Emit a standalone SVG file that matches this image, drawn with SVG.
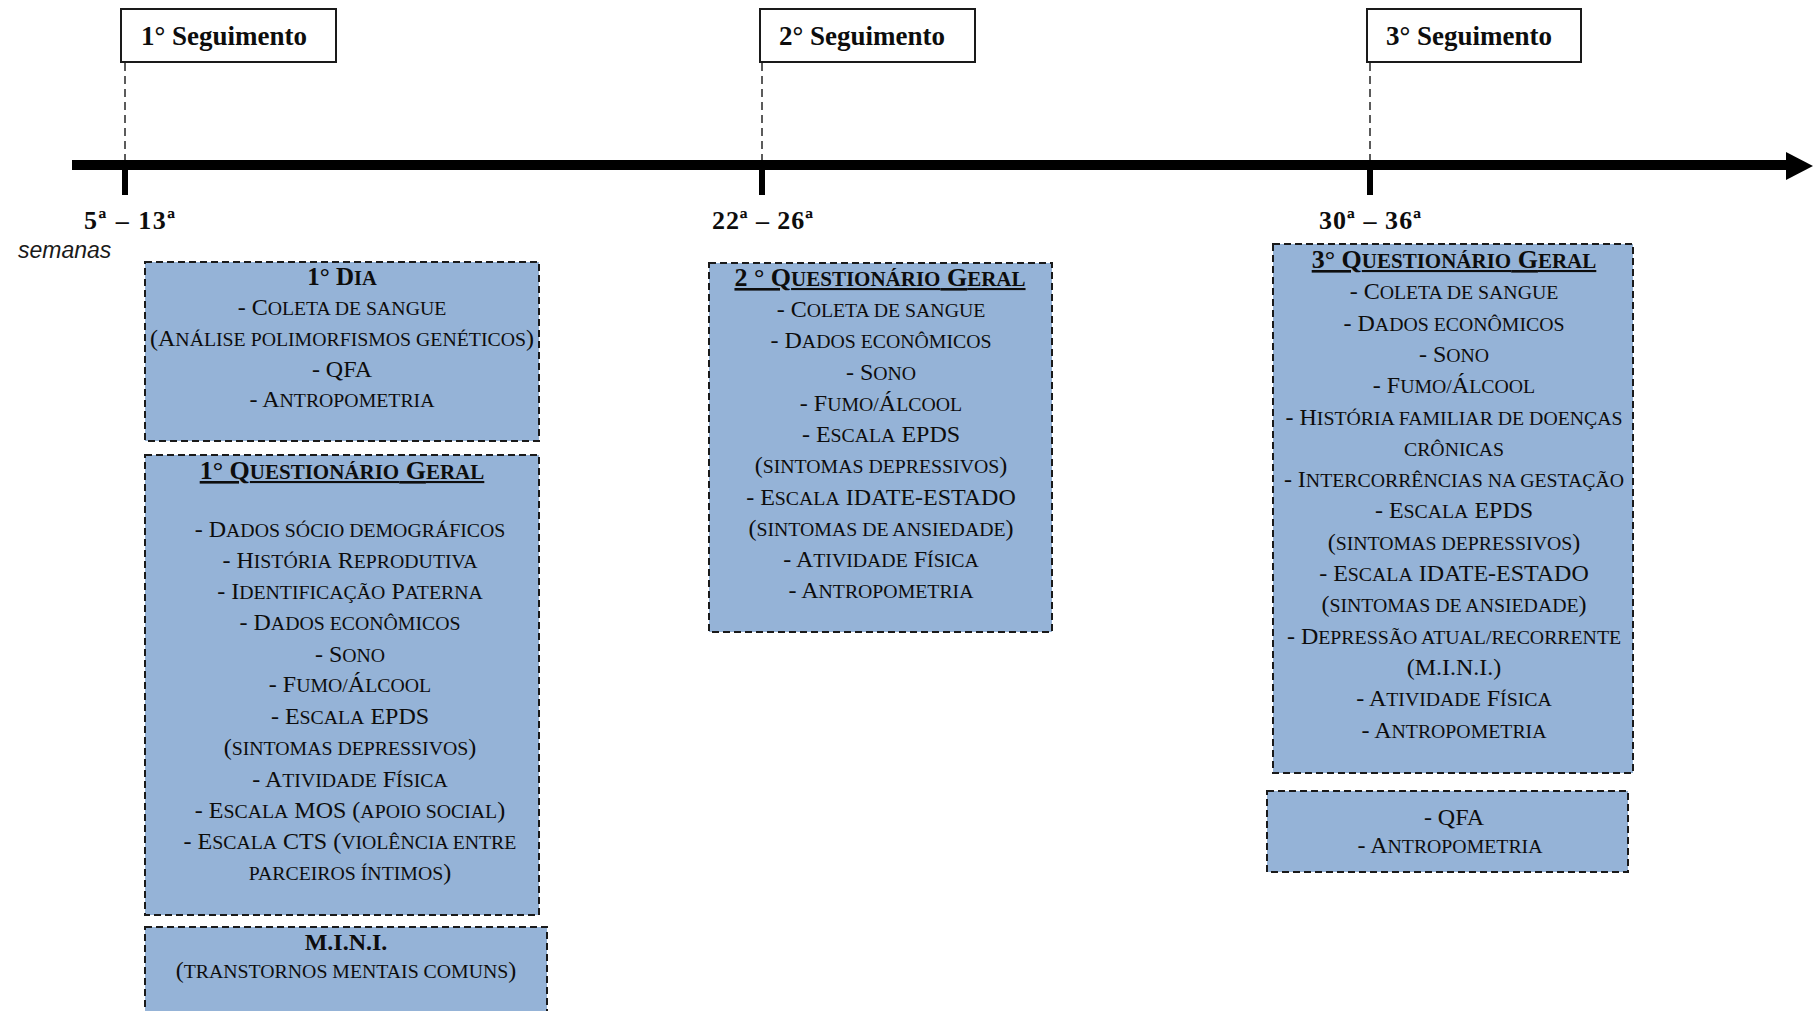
<svg xmlns="http://www.w3.org/2000/svg" width="1814" height="1011" viewBox="0 0 1814 1011">
<style>
.bg{fill:#ffffff}
.box{fill:#95b3d7;stroke:#1a1a1a;stroke-width:2;stroke-dasharray:7 4}
.seg{fill:#ffffff;stroke:#1a1a1a;stroke-width:2}
.lead{stroke:#333;stroke-width:1.6;stroke-dasharray:8 5;fill:none}
.t{font-family:"Liberation Serif","Times New Roman",serif;font-size:24px;fill:#0d0d0d;text-anchor:middle}
.s{font-size:19.8px;text-transform:uppercase}
.b{font-weight:bold}
.ti{font-size:26px;font-weight:bold;text-decoration:underline}
.ti .s{font-size:21px}
.segt{font-family:"Liberation Serif","Times New Roman",serif;font-size:27px;font-weight:bold;fill:#0d0d0d}
.wk{font-family:"Liberation Serif","Times New Roman",serif;font-size:26px;font-weight:bold;fill:#0d0d0d}
.sem{font-family:"Liberation Sans",Arial,sans-serif;font-size:23px;font-style:italic;fill:#1a1a1a}
</style>
<rect class="bg" x="0" y="0" width="1814" height="1011"/>

<g id="timeline">
<rect x="72" y="160" width="1718" height="10" fill="#000"/>
<polygon points="1786,152 1813,166 1786,180" fill="#000"/>
<rect x="122" y="165" width="6" height="30" fill="#000"/>
<rect x="759" y="165" width="6" height="30" fill="#000"/>
<rect x="1367" y="165" width="6" height="30" fill="#000"/>
<text class="wk" x="84" y="229" textLength="91" lengthAdjust="spacing">5ª – 13ª</text>
<text class="sem" x="18" y="258">semanas</text>
<text class="wk" x="712" y="229" textLength="101" lengthAdjust="spacing">22ª – 26ª</text>
<text class="wk" x="1319" y="229" textLength="102" lengthAdjust="spacing">30ª – 36ª</text>
</g>

<g id="connectors">
<line class="lead" x1="125" y1="63" x2="125" y2="160"/>
<line class="lead" x1="762" y1="63" x2="762" y2="160"/>
<line class="lead" x1="1370" y1="63" x2="1370" y2="160"/>
</g>

<g id="seg1">
<rect class="seg" x="121" y="9" width="215" height="53"/>
<text class="segt" x="141" y="45">1° Seguimento</text>
</g>
<g id="seg2">
<rect class="seg" x="760" y="9" width="215" height="53"/>
<text class="segt" x="779" y="45">2° Seguimento</text>
</g>
<g id="seg3">
<rect class="seg" x="1367" y="9" width="214" height="53"/>
<text class="segt" x="1386" y="45">3° Seguimento</text>
</g>

<g id="dia1">
<rect class="box" x="145" y="262" width="394" height="179"/>
<text class="t b" x="342" y="285" style="font-size:25px">1° D<tspan class="s" style="font-size:20.5px">ia</tspan></text>
<text class="t" x="342" y="315">- C<tspan class="s">oleta de sangue</tspan></text>
<text class="t" x="342" y="346">(A<tspan class="s">nálise polimorfismos genéticos</tspan>)</text>
<text class="t" x="342" y="377">- QFA</text>
<text class="t" x="342" y="407">- A<tspan class="s">ntropometria</tspan></text>
</g>

<g id="quest1">
<rect class="box" x="145" y="455" width="394" height="460"/>
<text class="t ti" x="342" y="479">1° Q<tspan class="s">uestionário</tspan> G<tspan class="s">eral</tspan></text>
<text class="t" x="350" y="537">- D<tspan class="s">ados sócio demográficos</tspan></text>
<text class="t" x="350" y="568">- H<tspan class="s">istória</tspan> R<tspan class="s">eprodutiva</tspan></text>
<text class="t" x="350" y="599">- I<tspan class="s">dentificação</tspan> P<tspan class="s">aterna</tspan></text>
<text class="t" x="350" y="630">- D<tspan class="s">ados econômicos</tspan></text>
<text class="t" x="350" y="662">- S<tspan class="s">ono</tspan></text>
<text class="t" x="350" y="692">- F<tspan class="s">umo/</tspan>Á<tspan class="s">lcool</tspan></text>
<text class="t" x="350" y="724">- E<tspan class="s">scala</tspan> EPDS</text>
<text class="t" x="350" y="755">(<tspan class="s">sintomas depressivos</tspan>)</text>
<text class="t" x="350" y="787">- A<tspan class="s">tividade</tspan> F<tspan class="s">ísica</tspan></text>
<text class="t" x="350" y="818">- E<tspan class="s">scala</tspan> MOS (<tspan class="s">apoio social</tspan>)</text>
<text class="t" x="350" y="849">- E<tspan class="s">scala</tspan> CTS (<tspan class="s">violência entre</tspan></text>
<text class="t" x="350" y="880"><tspan class="s">parceiros íntimos</tspan>)</text>
</g>

<g id="mini1">
<rect class="box" x="145" y="927" width="402" height="100"/>
<text class="t b" x="346" y="950">M.I.N.I.</text>
<text class="t" x="346" y="978">(<tspan class="s">transtornos mentais comuns</tspan>)</text>
</g>

<g id="quest2">
<rect class="box" x="709" y="263" width="343" height="369"/>
<text class="t ti" x="880" y="286">2 ° Q<tspan class="s">uestionário</tspan> G<tspan class="s">eral</tspan></text>
<text class="t" x="881" y="317">- C<tspan class="s">oleta de sangue</tspan></text>
<text class="t" x="881" y="348">- D<tspan class="s">ados econômicos</tspan></text>
<text class="t" x="881" y="380">- S<tspan class="s">ono</tspan></text>
<text class="t" x="881" y="411">- F<tspan class="s">umo/</tspan>Á<tspan class="s">lcool</tspan></text>
<text class="t" x="881" y="442">- E<tspan class="s">scala</tspan> EPDS</text>
<text class="t" x="881" y="473">(<tspan class="s">sintomas depressivos</tspan>)</text>
<text class="t" x="881" y="505">- E<tspan class="s">scala</tspan> IDATE-ESTADO</text>
<text class="t" x="881" y="536">(<tspan class="s">sintomas de ansiedade</tspan>)</text>
<text class="t" x="881" y="567">- A<tspan class="s">tividade</tspan> F<tspan class="s">ísica</tspan></text>
<text class="t" x="881" y="598">- A<tspan class="s">ntropometria</tspan></text>
</g>

<g id="quest3">
<rect class="box" x="1273" y="244" width="360" height="529"/>
<text class="t ti" x="1454" y="268">3° Q<tspan class="s">uestionário</tspan> G<tspan class="s">eral</tspan></text>
<text class="t" x="1454" y="299">- C<tspan class="s">oleta de sangue</tspan></text>
<text class="t" x="1454" y="331">- D<tspan class="s">ados econômicos</tspan></text>
<text class="t" x="1454" y="362">- S<tspan class="s">ono</tspan></text>
<text class="t" x="1454" y="393">- F<tspan class="s">umo/</tspan>Á<tspan class="s">lcool</tspan></text>
<text class="t" x="1454" y="425">- H<tspan class="s">istória familiar de doenças</tspan></text>
<text class="t" x="1454" y="456"><tspan class="s">crônicas</tspan></text>
<text class="t" x="1454" y="487">- I<tspan class="s">ntercorrências na gestação</tspan></text>
<text class="t" x="1454" y="518">- E<tspan class="s">scala</tspan> EPDS</text>
<text class="t" x="1454" y="550">(<tspan class="s">sintomas depressivos</tspan>)</text>
<text class="t" x="1454" y="581">- E<tspan class="s">scala</tspan> IDATE-ESTADO</text>
<text class="t" x="1454" y="612">(<tspan class="s">sintomas de ansiedade</tspan>)</text>
<text class="t" x="1454" y="644">- D<tspan class="s">epressão atual/recorrente</tspan></text>
<text class="t" x="1454" y="675">(M.I.N.I.)</text>
<text class="t" x="1454" y="706">- A<tspan class="s">tividade</tspan> F<tspan class="s">ísica</tspan></text>
<text class="t" x="1454" y="738">- A<tspan class="s">ntropometria</tspan></text>
</g>

<g id="qfa3">
<rect class="box" x="1267" y="791" width="361" height="81"/>
<text class="t" x="1454" y="825">- QFA</text>
<text class="t" x="1450" y="853">- A<tspan class="s">ntropometria</tspan></text>
</g>
</svg>
